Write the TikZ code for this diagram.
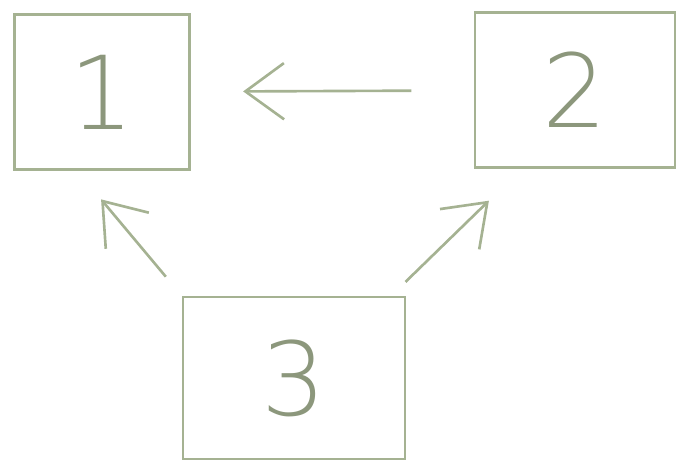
\documentclass[tikz,border=0pt]{standalone}
\usepackage{fontspec}
\newfontfamily\sketchfont{DejaVu Sans}[UprightFont=* ExtraLight]
\usetikzlibrary{arrows.meta,calc}
\definecolor{pencil}{RGB}{165,178,146}
\begin{document}
\begin{tikzpicture}[x=.02cm,y=-.02cm,line width=1.3pt,
  box/.style={draw=pencil,rectangle,inner sep=0pt,text=pencil!85!black,font=\sketchfont\fontsize{58}{58}\selectfont},
  arr/.style={draw=pencil,line width=1.5pt,-{Straight Barb[length=22pt,width=32pt,line width=1.5pt]}}]
\useasboundingbox (0,0) rectangle (680,467);
\node[box,minimum width=3.5cm,minimum height=3.1cm] (n1) at (102,92) {1};
\node[box,minimum width=4cm,minimum height=3.1cm] (n2) at (575,90) {2};
\node[box,minimum width=4.44cm,minimum height=3.24cm] (n3) at (294,378) {3};
\draw[arr,shorten <=1.25cm,shorten >=1.05cm] (n2) -- (n1);
\draw[arr,shorten <=.5cm,shorten >=.75cm] (n3.north west) -- ($(n1.south)+(-25,0)$);
\draw[arr,shorten <=.4cm,shorten >=.92cm] ($(n3.north east)+(-15,0)$) -- ($(n2.south west)+(48,0)$);
\end{tikzpicture}
\end{document}
